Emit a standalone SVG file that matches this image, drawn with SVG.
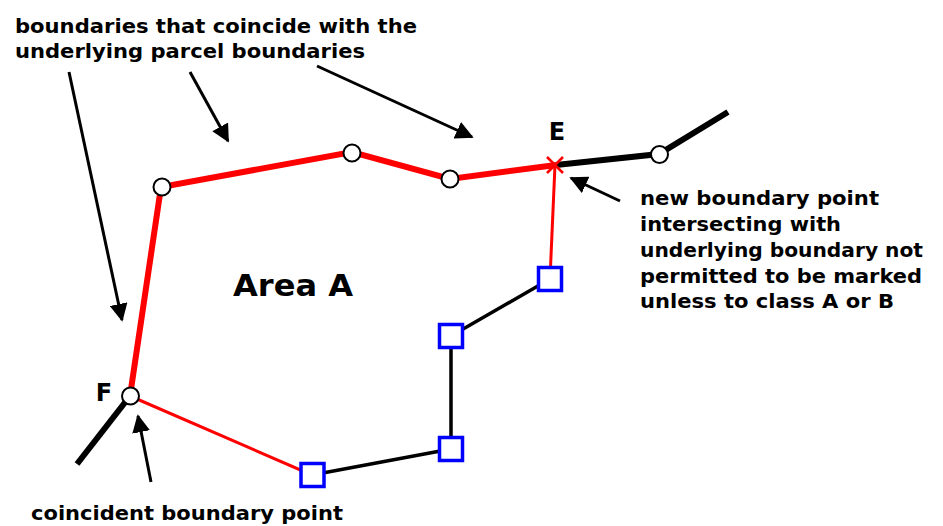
<svg xmlns="http://www.w3.org/2000/svg" width="943" height="526" viewBox="0 0 943 526">
<style>
text{font-family:"DejaVu Sans","Verdana",sans-serif;font-weight:bold;fill:#000}
.lbl{font-size:19.5px}
.pt{font-size:24px}
.thickred{stroke:#f00;stroke-width:6;fill:none}
.thinred{stroke:#f00;stroke-width:3;fill:none}
.thickblk{stroke:#000;stroke-width:6;fill:none}
.thinblk{stroke:#000;stroke-width:3.5;fill:none}
.ann{stroke:#000;stroke-width:3;fill:none}
.circ{fill:#fff;stroke:#000;stroke-width:2}
.sq{fill:#fff;stroke:#00f;stroke-width:3.5}
</style>
<defs>
<marker id="ah" viewBox="0 0 10 10" refX="9" refY="5" markerWidth="6" markerHeight="6" orient="auto" markerUnits="strokeWidth">
<path d="M0,0 L10,5 L0,10 z" fill="#000"/>
</marker>
</defs>
<rect width="943" height="526" fill="#fff"/>
<g id="connectors">
<polyline class="thickred" points="130,396 161,187 352,152 450,179 556,165"/>
<polyline class="thickblk" points="556,165 659,154 728,112"/>
<line class="thickblk" x1="130" y1="396" x2="77" y2="464"/>
<line class="thinred" x1="130" y1="396" x2="312" y2="475"/>
<line class="thinred" x1="555" y1="165" x2="550" y2="279"/>
<polyline class="thinblk" points="312,475 451,449 451,336 550,279"/>
<line class="ann" x1="69" y1="72" x2="122" y2="320" marker-end="url(#ah)"/>
<line class="ann" x1="190" y1="72" x2="228" y2="141" marker-end="url(#ah)"/>
<line class="ann" x1="317" y1="66" x2="472" y2="137" marker-end="url(#ah)"/>
<line class="ann" x1="620" y1="201" x2="571" y2="178" marker-end="url(#ah)"/>
<line class="ann" x1="151" y1="482" x2="138" y2="416" marker-end="url(#ah)"/>
</g>
<g id="node-C1"><circle class="circ" cx="162" cy="187" r="8.5"/></g>
<g id="node-C2"><circle class="circ" cx="352" cy="153" r="8.5"/></g>
<g id="node-C3"><circle class="circ" cx="450" cy="179" r="8.5"/></g>
<g id="node-C4"><circle class="circ" cx="659.5" cy="154.5" r="8.5"/></g>
<g id="node-E">
<path d="M547,157 L563,173 M563,157 L547,173" stroke="#f00" stroke-width="2.5"/>
<text class="pt" x="557" y="140" text-anchor="middle">E</text>
</g>
<g id="node-F">
<circle class="circ" cx="130.5" cy="396" r="8.5"/>
<text class="pt" x="104" y="401" text-anchor="middle">F</text>
</g>
<g id="node-S1"><rect class="sq" x="301" y="463.5" width="23" height="23"/></g>
<g id="node-S2"><rect class="sq" x="439.5" y="437.5" width="23" height="23"/></g>
<g id="node-S3"><rect class="sq" x="439.5" y="324.5" width="23" height="23"/></g>
<g id="node-S4"><rect class="sq" x="538.5" y="267.5" width="23" height="23"/></g>
<g id="labels">
<text class="lbl" x="15" y="33" textLength="402" lengthAdjust="spacingAndGlyphs">boundaries that coincide with the</text>
<text class="lbl" x="15" y="58" textLength="350" lengthAdjust="spacingAndGlyphs">underlying parcel boundaries</text>
<text x="233" y="296" style="font-size:31px" textLength="120" lengthAdjust="spacingAndGlyphs">Area A</text>
<text class="lbl" x="640" y="205" textLength="239" lengthAdjust="spacingAndGlyphs">new boundary point</text>
<text class="lbl" x="640" y="231" textLength="201" lengthAdjust="spacingAndGlyphs">intersecting with</text>
<text class="lbl" x="640" y="257" textLength="283" lengthAdjust="spacingAndGlyphs">underlying boundary not</text>
<text class="lbl" x="640" y="283" textLength="282" lengthAdjust="spacingAndGlyphs">permitted to be marked</text>
<text class="lbl" x="640" y="308" textLength="254" lengthAdjust="spacingAndGlyphs">unless to class A or B</text>
<text class="lbl" x="31" y="520" textLength="312" lengthAdjust="spacingAndGlyphs">coincident boundary point</text>
</g>
</svg>
